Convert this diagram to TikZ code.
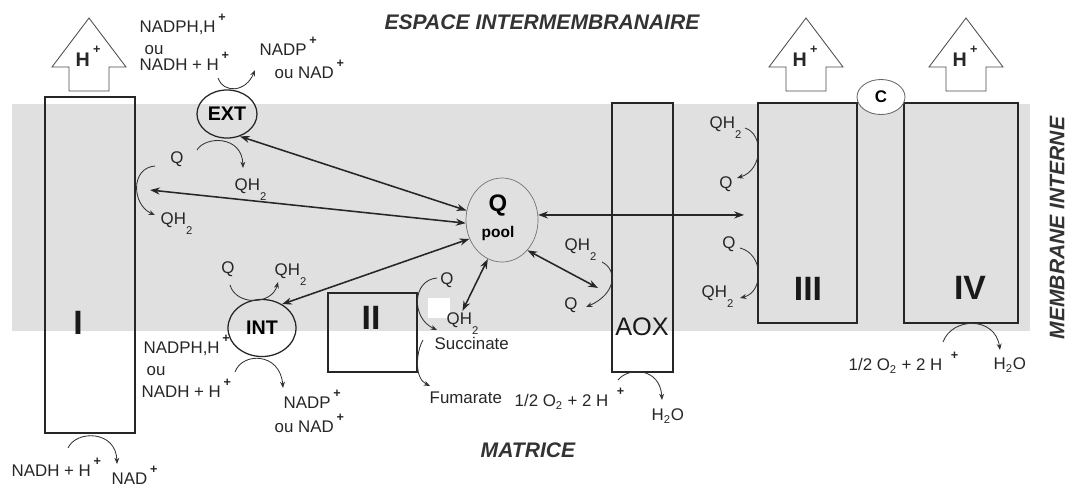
\documentclass[tikz,border=0pt]{standalone}
\usepackage{fontspec}
\setmainfont{Liberation Sans}
\usetikzlibrary{arrows.meta,shapes.geometric}
\newcommand{\chg}{\,\smash{\raisebox{1.3ex}{\small\bfseries +}}}
\newcommand{\qhd}{QH\smash{\raisebox{-1.1ex}{\footnotesize 2}}}

\begin{document}
\begin{tikzpicture}[x=0.025cm, y=-0.025cm,
	lbl/.style={font=\fontsize{12}{13}\selectfont, text=black!85, inner sep=1pt},
	caja/.style={draw=black!85, line width=1pt, inner sep=0pt},
	numero/.style={font=\bfseries\fontsize{24}{24}\selectfont, text=black!90},
	enzima/.style={ellipse, draw=black!85, line width=0.9pt, inner sep=0pt, font=\bfseries\fontsize{14}{14}\selectfont},
	titulo/.style={font=\bfseries\itshape\fontsize{15}{15}\selectfont, text=black!80},
	proton/.style={draw=black!70, line width=0.6pt, fill=white},
	reac/.style={-{Stealth[length=4.5pt,width=3.5pt]}, line width=0.6pt, draw=black!80},
	flujo/.style={{Stealth[length=7pt,width=5pt]}-{Stealth[length=7pt,width=5pt]}, line width=1.1pt, draw=black!85}]
	\useasboundingbox (0,0) rectangle (1070,489);
	% membrana interna
	\fill[black!12] (12,104) rectangle (1030,331);
	\fill[white] (428,298) rectangle (450,318);
	
	\node[titulo] (esp) at (542,22) {ESPACE INTERMEMBRANAIRE};
	\node[titulo] (mat) at (528,450) {MATRICE};
	\node[titulo, rotate=90] (mem) at (1057,228) {MEMBRANE INTERNE};
	
	% complejos
	\node[caja, minimum width=2.25cm, minimum height=8.4cm] (ci) at (90,265) {};
	\node[numero] (ni) at (78,323) {I};
	\node[caja, minimum width=2.225cm, minimum height=1.975cm] (cii) at (372.5,332.5) {};
	\node[numero] (nii) at (371,318) {II};
	\node[caja, minimum width=1.525cm, minimum height=6.725cm] (aox) at (642.5,237.5) {};
	\node[font=\fontsize{18}{18}\selectfont, text=black!90] (naox) at (642,327) {AOX};
	\node[caja, minimum width=2.475cm, minimum height=5.5cm] (ciii) at (807.5,213) {};
	\node[numero] (niii) at (808,289) {III};
	\node[caja, minimum width=2.85cm, minimum height=5.5cm] (civ) at (961,213) {};
	\node[numero] (niv) at (970,288) {IV};
	\node[ellipse, draw=black!60, fill=white, line width=0.6pt, minimum width=1.2cm, minimum height=0.875cm, inner sep=0pt, font=\bfseries\fontsize{12}{12}\selectfont] (cytc) at (881,97) {C};
	
	\node[enzima, minimum width=1.5cm, minimum height=1.2cm] (ext) at (227,114) {EXT};
	\node[enzima, minimum width=1.7cm, minimum height=1.425cm] (int) at (262,328) {INT};
	\node[ellipse, draw=black!55, line width=0.5pt, minimum width=1.8cm, minimum height=2.1cm] (qpool) at (502,220) {};
	\node[font=\bfseries\fontsize{17}{17}\selectfont] (nq) at (498,205) {Q};
	\node[font=\bfseries\fontsize{11}{11}\selectfont] (npool) at (498,233) {pool};
	
	\foreach \x/\n in {89/hi, 806/hiii, 966/hiv}{
		\draw[proton] (\x,18) -- (\x+37,67) -- (\x+20,67) -- (\x+20,91) -- (\x-20,91) -- (\x-20,67) -- (\x-37,67) -- cycle;
		\node[font=\bfseries\fontsize{14}{14}\selectfont, text=black!85] (\n) at (\x-1,60) {H\chg};
	}
	
	% textos de las reacciones
	\node[lbl, anchor=west] (nadphe) at (138,28) {NADPH,H\chg};
	\node[lbl, anchor=west] (oue) at (143,50) {ou};
	\node[lbl, anchor=west] (nadhe) at (138,65) {NADH + H\chg};
	\node[lbl, anchor=west] (nadpe) at (258,50) {NADP\chg};
	\node[lbl, anchor=west] (nade) at (273,73) {ou NAD\chg};
	\node[lbl] (qe) at (177,159) {Q};
	\node[lbl, anchor=west] (qhe) at (233,186) {\qhd};
	\node[lbl, anchor=west] (qhi) at (159,220) {\qhd};
	\node[lbl] (qn) at (228,269) {Q};
	\node[lbl, anchor=west] (qhn) at (273,271) {\qhd};
	\node[lbl, anchor=west] (nadphn) at (142,349) {NADPH,H\chg};
	\node[lbl, anchor=west] (oun) at (145,371) {ou};
	\node[lbl, anchor=west] (nadhn) at (140,392) {NADH + H\chg};
	\node[lbl, anchor=west] (nadpn) at (282,403) {NADP\chg};
	\node[lbl, anchor=west] (nadn) at (273,427) {ou NAD\chg};
	\node[lbl, anchor=west] (nadhi) at (10,471) {NADH + H\chg};
	\node[lbl, anchor=west] (nadi) at (110,479) {NAD\chg};
	\node[lbl] (qii) at (447,280) {Q};
	\node[lbl, anchor=west] (qhii) at (445,320) {\qhd};
	\node[lbl, anchor=west] (succ) at (433,343) {Succinate};
	\node[lbl, anchor=west] (fum) at (428,398) {Fumarate};
	\node[lbl, anchor=west] (qha) at (563,246) {\qhd};
	\node[lbl] (qa) at (571,305) {Q};
	\node[lbl, anchor=west] (oxa) at (513,402) {1/2 O\textsubscript{2} + 2 H\hspace{4pt}\chg};
	\node[lbl, anchor=west] (h2oa) at (650,416) {H\textsubscript{2}O};
	\node[lbl, anchor=west] (qhiii) at (708,124) {\qhd};
	\node[lbl] (qiii) at (726,184) {Q};
	\node[lbl] (qiiib) at (729,244) {Q};
	\node[lbl, anchor=west] (qhiiib) at (700,293) {\qhd};
	\node[lbl, anchor=west] (oxiv) at (847,366) {1/2 O\textsubscript{2} + 2 H\hspace{4pt}\chg};
	\node[lbl, anchor=west] (h2oiv) at (992,365) {H\textsubscript{2}O};
	
	% extremos de las flechas curvas
	\coordinate (e1a) at (218,78);  \coordinate (e1b) at (255,70);
	\coordinate (e2a) at (197,150); \coordinate (e2b) at (243,168);
	\coordinate (i1a) at (155,166); \coordinate (i1b) at (155,215);
	\coordinate (n1a) at (230,285); \coordinate (n1b) at (278,282);
	\coordinate (n2a) at (235,372); \coordinate (n2b) at (283,388);
	\coordinate (i2a) at (68,448);  \coordinate (i2b) at (117,464);
	\coordinate (s1a) at (437,278); \coordinate (s1b) at (437,330);
	\coordinate (s2a) at (423,340); \coordinate (s2b) at (430,386);
	\coordinate (a1a) at (602,262); \coordinate (a1b) at (586,307);
	\coordinate (a2a) at (618,380); \coordinate (a2b) at (662,400);
	\coordinate (b1a) at (745,128); \coordinate (b1b) at (737,178);
	\coordinate (b2a) at (740,248); \coordinate (b2b) at (740,298);
	\coordinate (c1a) at (943,342); \coordinate (c1b) at (1000,350);
	\coordinate (ia) at (150,190);
	\coordinate (aoxm) at (598,288);
	
	\draw[reac] (e1a) .. controls (224,94) and (246,92) .. (e1b);
	\draw[reac] (e2a) .. controls (205,136) and (242,135) .. (e2b);
	\draw[reac] (i1a) .. controls (130,168) and (132,205) .. (i1b);
	\draw[reac] (n1a) .. controls (236,306) and (272,305) .. (n1b);
	\draw[reac] (n2a) .. controls (242,352) and (280,352) .. (n2b);
	\draw[reac] (i2a) .. controls (76,430) and (116,430) .. (i2b);
	\draw[reac] (s1a) .. controls (412,280) and (411,318) .. (s1b);
	\draw[reac] (s2a) .. controls (416,352) and (414,378) .. (s2b);
	\draw[reac] (a1a) .. controls (618,270) and (616,294) .. (a1b);
	\draw[reac] (a2a) .. controls (628,367) and (660,367) .. (a2b);
	\draw[reac] (b1a) .. controls (764,134) and (763,170) .. (b1b);
	\draw[reac] (b2a) .. controls (764,254) and (764,292) .. (b2b);
	\draw[reac] (c1a) .. controls (952,317) and (995,316) .. (c1b);
	
	% intercambio con el pool de quinonas
	\draw[flujo] (ext.300) -- (qpool.165);
	\draw[flujo] (ia) -- (qpool.185);
	\draw[flujo] (int.50) -- (qpool.210);
	\draw[flujo] (qpool.250) -- (qhii.north);
	\draw[flujo] (qpool.310) -- (aoxm);
	\draw[flujo, shorten >=0.33cm] (qpool.8) -- (qpool.8 -| ciii.west);
\end{tikzpicture}
\end{document}
